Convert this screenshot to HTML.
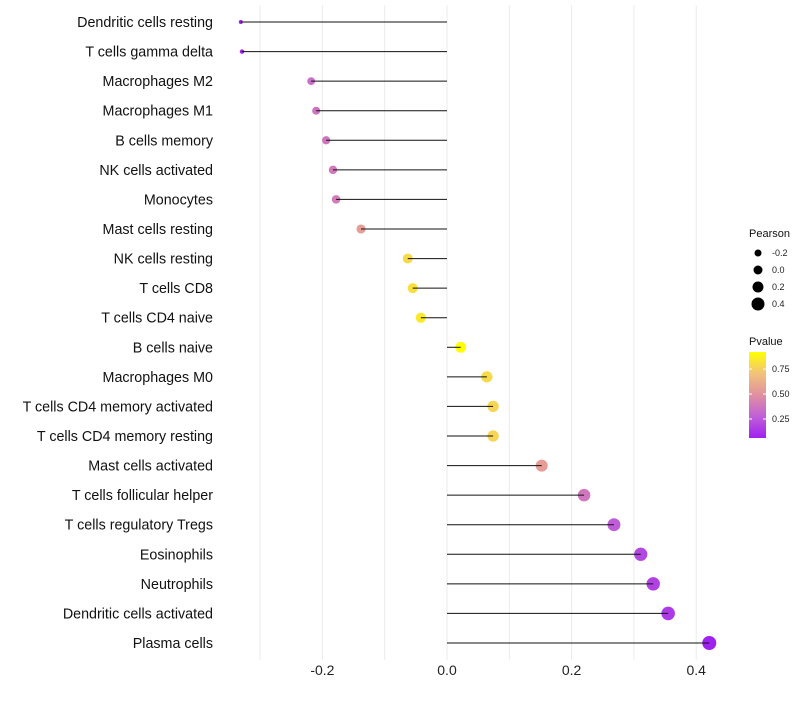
<!DOCTYPE html>
<html><head><meta charset="utf-8"><style>
body{margin:0;background:#fff;font-family:"Liberation Sans",sans-serif}
</style></head><body>
<svg id="c" width="800" height="700" xmlns="http://www.w3.org/2000/svg" font-family="Liberation Sans, sans-serif"></svg>
<script>
const categories=["Dendritic cells resting","T cells gamma delta","Macrophages M2","Macrophages M1","B cells memory","NK cells activated","Monocytes","Mast cells resting","NK cells resting","T cells CD8","T cells CD4 naive","B cells naive","Macrophages M0","T cells CD4 memory activated","T cells CD4 memory resting","Mast cells activated","T cells follicular helper","T cells regulatory  Tregs","Eosinophils","Neutrophils","Dendritic cells activated","Plasma cells"];
const pearson=[-0.331,-0.329,-0.218,-0.210,-0.194,-0.183,-0.178,-0.138,-0.063,-0.055,-0.042,0.022,0.064,0.074,0.074,0.152,0.220,0.268,0.311,0.331,0.355,0.421];
const pvalues=[0.04,0.04,0.36,0.38,0.40,0.41,0.42,0.58,0.84,0.86,0.90,0.98,0.84,0.82,0.82,0.58,0.40,0.28,0.20,0.18,0.15,0.05];
const xTicks=[-0.2,0,0.2,0.4];
const xTickLabels=["-0.2","0.0","0.2","0.4"];
const sizeLegend=[-0.2,0,0.2,0.4];
const pLegend=[0.25,0.5,0.75];
const svg=document.getElementById('c');const NS="http://www.w3.org/2000/svg";
function mk(t,a,p){const e=document.createElementNS(NS,t);for(const k in a)e.setAttribute(k,a[k]);(p||svg).appendChild(e);return e;}
const X=v=>447+v*623;
const Y=i=>22+i*(621/21);
const R=v=>2+5*Math.sqrt(Math.max(0,(v+0.331)/0.752));
const stops=[[0,[160,32,240]],[0.25,[192,96,216]],[0.5,[224,144,160]],[0.75,[242,194,122]],[1,[255,255,0]]];
function col(p){let t=(p-0.06)/(0.98-0.06);t=Math.max(0,Math.min(1,t));for(let i=1;i<stops.length;i++){if(t<=stops[i][0]){const a=stops[i-1],b=stops[i];const f=(t-a[0])/(b[0]-a[0]);const c=a[1].map((v,j)=>Math.round(v+(b[1][j]-v)*f));return `rgb(${c})`;}}return 'rgb(255,255,0)';}
for(let v=-0.3;v<=0.45;v+=0.1){const g=mk('line',{x1:X(v),x2:X(v),y1:5,y2:660,stroke:'#ebebeb','stroke-width':1});}
xTicks.forEach((v,i)=>{const t=mk('text',{x:X(v),y:675,'text-anchor':'middle','font-size':14,fill:'#222'});t.textContent=xTickLabels[i];});
categories.forEach((c,i)=>{const y=Y(i);
const t=mk('text',{x:213,y:y+5,'text-anchor':'end','font-size':14.3,fill:'#111'});t.textContent=c;
const d=mk('circle',{cx:X(pearson[i]),cy:y,r:R(pearson[i]),fill:col(pvalues[i])});
const l=mk('line',{x1:X(0),x2:X(pearson[i]),y1:y,y2:y,stroke:'#111','stroke-width':1});});
const lt=mk('text',{x:749,y:237,'font-size':11,fill:'#111'});lt.textContent='Pearson';
sizeLegend.forEach((v,i)=>{const y=253+i*17;const c=mk('circle',{cx:758,cy:y,r:3.5+i*1,fill:'#000'});
const t=mk('text',{x:772,y:y+3,'font-size':9,fill:'#222'});t.textContent=v.toFixed(1);});
const pt=mk('text',{x:749,y:345,'font-size':11,fill:'#111'});pt.textContent='Pvalue';
const defs=mk('defs',{});const gr=mk('linearGradient',{id:'g',x1:0,y1:1,x2:0,y2:0},defs);
stops.forEach(s=>mk('stop',{offset:s[0],'stop-color':`rgb(${s[1]})`},gr));
const bar=mk('rect',{x:749,y:352,width:17,height:86,fill:'url(#g)'});
pLegend.forEach(v=>{const y=444-v*100;mk('line',{x1:749,x2:752,y1:y,y2:y,stroke:'#fff'});mk('line',{x1:763,x2:766,y1:y,y2:y,stroke:'#fff'});
const t=mk('text',{x:772,y:y+3,'font-size':9,fill:'#222'});t.textContent=v.toFixed(2);});
</script>
</body></html>
